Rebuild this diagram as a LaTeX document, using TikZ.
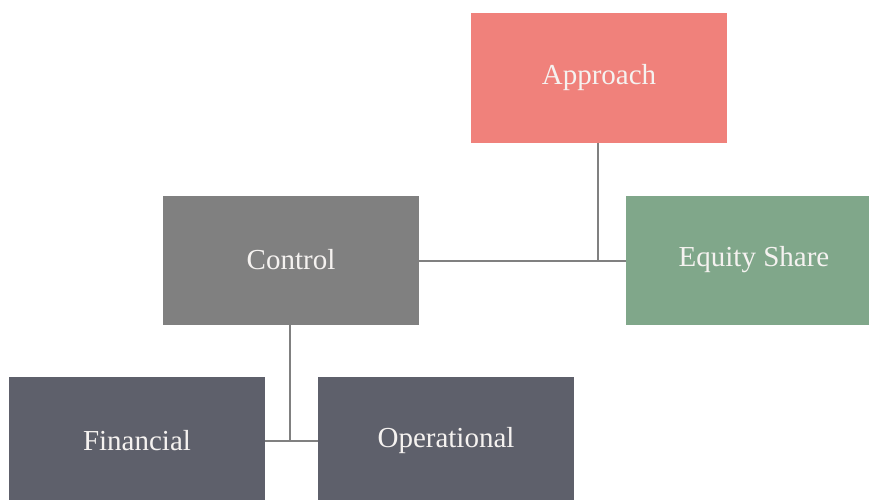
\documentclass[tikz,border=0pt]{standalone}
\usepackage{fontspec}
\setmainfont{Liberation Serif}
\definecolor{cApproach}{RGB}{240,129,123}
\definecolor{cEquity}{RGB}{128,167,138}
\definecolor{cControl}{RGB}{128,128,128}
\definecolor{cDark}{RGB}{94,96,107}
\definecolor{cLine}{RGB}{128,128,128}
\definecolor{cText}{RGB}{245,242,240}
\begin{document}
\begin{tikzpicture}[x=1pt,y=-1pt,
  box/.style={rectangle,minimum width=256pt,minimum height=129pt,inner sep=0pt,
    text=cText,font=\fontsize{29}{33}\selectfont},
  link/.style={draw=cLine,line width=2pt}]
\useasboundingbox (0,0) rectangle (869,500);
\node[box,fill=cApproach] (approach) at (599,78) {Approach};
\node[box,fill=cControl] (control) at (291,260) {Control};
\node[box,fill=cEquity] (equity) at (754,260) {Equity Share};
\node[box,fill=cDark] (financial) at (137,441) {Financial};
\node[box,fill=cDark] (operational) at (446,441) {Operational};
\coordinate (j1) at (598,261);
\coordinate (j2) at (290,441);
\draw[link] (control.east |- j1) -- (equity.west |- j1);
\draw[link] (approach.south -| j1) -- (j1);
\draw[link] (financial.east |- j2) -- (operational.west |- j2);
\draw[link] (control.south -| j2) -- (j2);
\end{tikzpicture}
\end{document}
